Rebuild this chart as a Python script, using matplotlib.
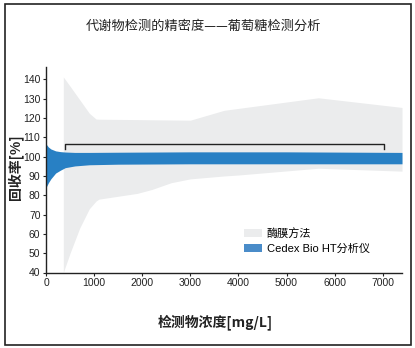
import matplotlib
matplotlib.use("Agg")
import matplotlib.pyplot as plt
from matplotlib.patches import Patch, Rectangle
import numpy as np

plt.rcParams['font.family'] = ['Liberation Sans', 'Noto Sans CJK SC', 'DejaVu Sans']

# Enzyme-membrane method range (gray band)
gray_x = [360, 500, 700, 900, 1040, 1100, 1500, 1900, 2200, 2600, 3000, 3700, 4000, 5660, 7400]
gray_upper = [141.3, 136.5, 129.5, 122.5, 119.5, 119.4, 119.3, 119.2, 119.1, 119.0, 118.9, 124.0, 125.0, 130.5, 125.5]
gray_lower = [40.0, 50.0, 63.0, 73.0, 77.0, 78.0, 79.5, 81.0, 83.0, 86.5, 88.5, 90.0, 90.5, 94.0, 92.5]

# Cedex Bio HT range (blue band)
blue_x = [0, 50, 100, 200, 300, 400, 600, 900, 1500, 3000, 5000, 7400]
blue_upper = [106.6, 105.0, 104.0, 103.0, 102.6, 102.4, 102.2, 102.2, 102.3, 102.5, 102.5, 102.2]
blue_lower = [84.0, 86.5, 88.5, 91.5, 93.0, 94.3, 95.2, 95.8, 96.1, 96.3, 96.3, 96.3]

# bracket
bracket_x = [400, 7030]
bracket_y = 106.6
bracket_tip = 104.2

xticks = [0, 1000, 2000, 3000, 4000, 5000, 6000, 7000]
yticks = [40, 50, 60, 70, 80, 90, 100, 110, 120, 130, 140]

title = "代谢物检测的精密度——葡萄糖检测分析"
xlabel = "检测物浓度[mg/L]"
ylabel = "回收率[%]"
labels = ["酶膜方法", "Cedex Bio HT分析仪"]

gray_c = "#ebeced"
blue_c = "#2880c4"

fig = plt.figure(figsize=(4.15, 3.48), dpi=100)
ax = fig.add_axes([46/415, 1-272.5/348, (402-46)/415, (272.5-66.7)/348])

ax.fill_between(gray_x, gray_lower, gray_upper, color=gray_c, lw=0)
ax.fill_between(blue_x, blue_lower, blue_upper, color=blue_c, lw=0)
ax.plot([bracket_x[0], bracket_x[0], bracket_x[1], bracket_x[1]],
        [bracket_tip, bracket_y, bracket_y, bracket_tip], color="#222222", lw=1.0)

ax.set_xlim(0, 7400)
ax.set_ylim(40, 146.6)
ax.set_xticks(xticks)
ax.set_yticks(yticks)
ax.tick_params(axis='both', labelsize=7.5, length=2.5, width=0.8, pad=1.5, colors="#222222")
for s in ['top', 'right']:
    ax.spines[s].set_visible(False)
for s in ['left', 'bottom']:
    ax.spines[s].set_linewidth(1.0)
    ax.spines[s].set_color("#222222")

fig.text(203/415, 1-26/348, title, ha='center', va='center', fontsize=9.5,
         family=['Noto Sans CJK SC'], color="#222222")
fig.text(215/415, 1-321.7/348, xlabel, ha='center', va='center', fontsize=10,
         fontweight='bold', family=['Noto Sans CJK SC'], color="#222222")
fig.text(15/415, 1-167/348, ylabel, ha='center', va='center', fontsize=10,
         fontweight='bold', rotation=90, family=['Noto Sans CJK SC'], color="#222222")

handles = [Patch(facecolor=gray_c, edgecolor='none'), Patch(facecolor="#4a8cc9", edgecolor='none')]
ax.legend(handles, labels, loc='center left', bbox_to_anchor=(0.555, 0.153), frameon=False,
          prop={'family': ['Liberation Sans', 'Noto Sans CJK SC'], 'size': 8},
          handlelength=1.7, handleheight=0.75, handletextpad=0.4, labelspacing=0.45,
          borderpad=0, borderaxespad=0)

fig.patches.append(Rectangle((4.5/415, 1-344.5/348), (410.5-4.5)/415, (344.5-3.5)/348,
                             transform=fig.transFigure, fill=False, edgecolor='#222222', lw=1.2))

fig.savefig("out.png", dpi=100)
